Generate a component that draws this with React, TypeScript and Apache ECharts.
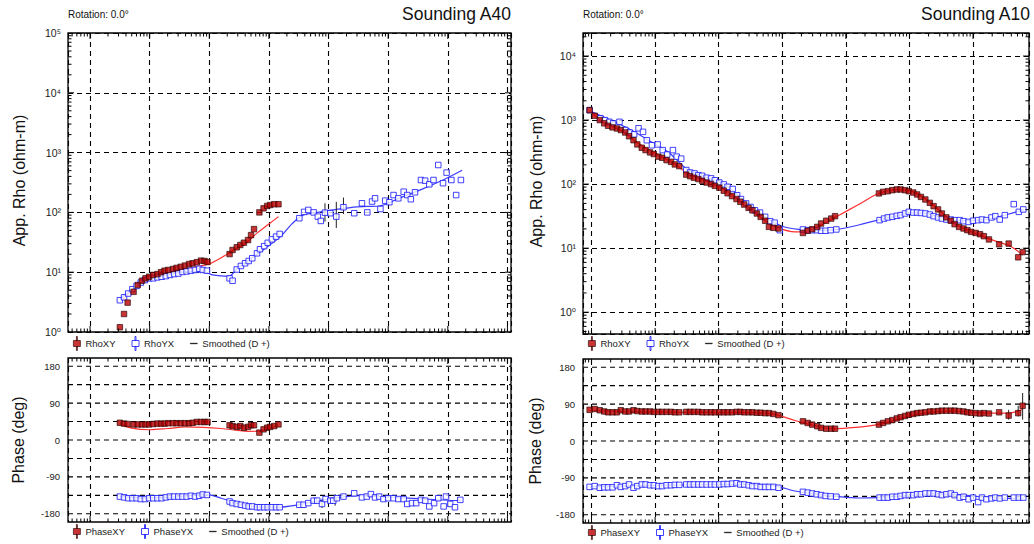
import React, { useEffect, useRef } from "react";
import * as echarts from "echarts";

const FONT = '"Liberation Sans", Arial, "DejaVu Sans", sans-serif';

// ================= Sounding A40 (left) =================
// log10(period) of each sample
const A40_XY_LOGT = [-3.50, -3.43, -3.37, -3.27, -3.20, -3.13, -3.07, -3.01, -2.94, -2.87, -2.81, -2.75, -2.69, -2.61, -2.55, -2.48, -2.41, -2.34, -2.28, -2.21, -2.14, -2.08, -2.03,
  -1.66, -1.61, -1.54, -1.48, -1.42, -1.35, -1.30, -1.25, -1.16, -1.09, -1.03, -0.98, -0.91, -0.84];
const A40_XY_RHO = [1.2, 2.0, 3.1, 4.7, 6.1, 7.2, 7.9, 8.4, 9.0, 9.3, 10.0, 10.6, 10.9, 11.3, 11.8, 12.3, 12.9, 13.7, 14.1, 14.7, 15.6, 15.4, 14.8,
  20.1, 23.5, 26.1, 28.5, 31.1, 34.5, 41.7, 52.6, 100, 117, 128, 133, 137, 137];
const A40_XY_PHASE = [42, 40, 39, 38, 38, 38, 38, 38, 39, 40, 40, 40, 41, 41, 41, 41, 41, 41, 42, 44, 44, 44, 44,
  36, 34, 32, 34, 30, 32, 36, 36, 18, 26, 30, 32, 34, 38];

const A40_YX_LOGT = [-3.50, -3.43, -3.36, -3.29, -3.22, -3.15, -3.08, -3.01, -2.94, -2.87, -2.80, -2.73, -2.66, -2.59, -2.52, -2.45, -2.38, -2.31, -2.24, -2.17, -2.11, -2.04,
  -1.66, -1.61, -1.54, -1.47, -1.40, -1.34, -1.28, -1.20, -1.15, -1.08, -1.02, -0.95, -0.88, -0.82,
  -0.49, -0.41, -0.34, -0.25, -0.18, -0.13, -0.06, 0.03, 0.13, 0.25, 0.43, 0.56, 0.65, 0.73, 0.78, 0.87, 0.95, 1.02, 1.09, 1.17, 1.26, 1.32, 1.38, 1.45, 1.55, 1.62, 1.69, 1.76, 1.84, 1.92, 1.98, 2.06, 2.14, 2.22];
const A40_YX_RHO = [3.4, 3.8, 4.4, 5.2, 5.9, 6.7, 7.4, 7.9, 7.9, 8.2, 8.4, 8.6, 9.0, 9.3, 9.5, 10.1, 10.3, 10.6, 10.9, 11.4, 10.9, 10.6,
  7.9, 7.2, 11.1, 12.7, 14.1, 15.4, 17.1, 20.7, 24.2, 27.3, 31, 35.4, 39.3, 43.6,
  80, 102, 110, 100, 85, 72, 99, 97, 85, 122, 97, 142, 100, 152, 172, 114, 157, 148, 195, 172, 222, 195, 166, 217, 348, 339, 295, 348, 620, 308, 463, 348, 195, 348];

const A40_YXP_LOGT = [-3.50, -3.43, -3.36, -3.29, -3.22, -3.15, -3.08, -3.01, -2.94, -2.87, -2.80, -2.73, -2.66, -2.59, -2.52, -2.45, -2.38, -2.31, -2.24, -2.17, -2.11, -2.04,
  -1.66, -1.61, -1.54, -1.47, -1.40, -1.34, -1.28, -1.20, -1.15, -1.08, -1.02, -0.95, -0.88, -0.82,
  -0.49, -0.42, -0.34, -0.25, -0.19, -0.11, -0.05, 0.03, 0.08, 0.14, 0.25, 0.43, 0.56, 0.64, 0.71, 0.78, 0.85, 0.92, 1.00, 1.09, 1.17, 1.26, 1.32, 1.40, 1.47, 1.55, 1.62, 1.69, 1.77, 1.84, 1.93, 1.97, 2.04, 2.12, 2.21];
const A40_YX_PHASE = [-138, -140, -142, -142, -142, -144, -144, -142, -142, -142, -142, -140, -138, -138, -138, -138, -138, -136, -138, -136, -133, -134,
  -150, -154, -156, -158, -160, -162, -162, -164, -164, -164, -164, -164, -164, -164,
  -158, -158, -154, -148, -148, -156, -144, -148, -148, -142, -138, -130, -140, -138, -132, -140, -138, -144, -142, -142, -144, -144, -156, -154, -154, -146, -148, -162, -154, -142, -162, -138, -156, -164, -146];

const A40_SXY_LOGT = [-3.47, -3.3, -3.1, -2.9, -2.6, -2.3, -2.0, -1.8, -1.6, -1.4, -1.2, -1.0, -0.84];
const A40_SXY_RHO = [3.3, 5.0, 6.8, 8.2, 10.3, 12.0, 13.8, 17.5, 23, 30, 45, 64, 85];
const A40_SYX_LOGT = [-3.50, -3.33, -3.08, -2.74, -2.32, -2.07, -1.95, -1.68, -1.53, -1.23, -0.81, -0.61, -0.43, -0.26, 0.08, 0.48, 0.85, 1.20, 1.59, 1.92, 2.24];
const A40_SYX_RHO = [3.6, 4.8, 7.0, 8.9, 10.2, 10.0, 9.0, 8.5, 11.5, 19, 39, 65, 90, 97, 110, 124, 128, 175, 250, 348, 506];
const A40_SXYP_LOGT = [-3.50, -3.3, -3.0, -2.7, -2.4, -2.1, -1.8, -1.55, -1.35, -1.15, -0.95, -0.84];
const A40_SXYP = [40, 29, 25, 28, 32, 31, 28, 24, 21, 22, 30, 36];
const A40_SYXP_LOGT = [-3.50, -3.0, -2.5, -2.05, -1.8, -1.5, -1.2, -0.85, -0.5, -0.2, 0.1, 0.5, 1.0, 1.5, 2.0, 2.22];
const A40_SYXP = [-138, -141, -138, -133, -142, -156, -163, -164, -158, -149, -142, -136, -139, -143, -147, -148];

const A40_ERR_LOGT = [-0.06, 0.13, 0.25];
const A40_ERR_LO = [70, 55, 94];
const A40_ERR_HI = [142, 150, 177];
const A40_PERR_LOGT = [-0.11, 0.11];
const A40_PERR_LO = [-166, -160];
const A40_PERR_HI = [-146, -132];

// ================= Sounding A10 (right) =================
const A10_XY_LOGT = [-4.03, -3.95, -3.87, -3.80, -3.74, -3.67, -3.60, -3.54, -3.47, -3.41, -3.34, -3.28, -3.21, -3.15, -3.08, -3.02, -2.95, -2.89, -2.82, -2.75,
  -2.69, -2.62, -2.51, -2.45, -2.39, -2.32, -2.26, -2.19, -2.12, -2.06, -1.99, -1.92, -1.86, -1.79, -1.72, -1.66, -1.60, -1.53, -1.47, -1.40, -1.34, -1.27, -1.21, -1.14, -1.06,
  -0.675, -0.60, -0.53, -0.45, -0.39, -0.31, -0.23, -0.17,
  0.52, 0.585, 0.66, 0.73, 0.80, 0.86, 0.93, 0.99, 1.06, 1.12, 1.18, 1.25, 1.32, 1.38, 1.45, 1.51, 1.58, 1.65, 1.71, 1.78, 1.85, 1.91, 1.97, 2.04, 2.11, 2.17, 2.25, 2.41, 2.56, 2.71, 2.78];
const A10_XY_RHO = [1430, 1170, 1000, 890, 815, 770, 740, 700, 640, 560, 485, 417, 370, 340, 313, 295, 269, 258, 237, 223,
  203, 191, 141, 133, 126, 120, 113, 106, 100, 94, 88, 79, 72, 65, 58.5, 53, 48, 42.6, 39, 34.8, 30.8, 26.8, 21.5, 20.8, 20.3,
  17.3, 18.7, 19.8, 21.5, 24.3, 26.8, 29, 31.6,
  71.6, 75.8, 77.6, 80.5, 82.6, 82.6, 80.5, 77.6, 74, 69, 63.2, 57.6, 51.1, 45.3, 40.3, 34.8, 30.3, 26.8, 23.7, 21.5, 20.3, 19.1, 18, 17.3, 16.5, 15.4, 13.7, 11.5, 11.8, 7.2, 8.7];
const A10_XY_PHASE = [76, 78, 75, 72, 70, 70, 70, 75, 72, 72, 75, 73, 72, 72, 72, 71, 71, 71, 71, 71,
  70, 70, 71, 71, 71, 71, 70, 70, 70, 70, 70, 70, 70, 70, 71, 71, 70, 70, 70, 69, 69, 68, 68, 66, 63,
  48, 44, 40, 36, 32, 30, 30, 30,
  40, 44, 48, 51, 55, 58, 61, 64, 66, 68, 69, 70, 72, 72, 73, 74, 74, 74, 74, 73, 72, 70, 69, 68, 67, 68, 67, 70, 62, 68, 86];

const A10_YX_LOGT = [-4.03, -3.86, -3.79, -3.72, -3.66, -3.56, -3.47, -3.40, -3.33, -3.26, -3.19, -3.13, -3.05, -2.96, -2.88, -2.81, -2.72, -2.66, -2.59, -2.51,
  -2.45, -2.38, -2.32, -2.26, -2.19, -2.12, -2.06, -1.99, -1.92, -1.86, -1.78, -1.71, -1.65, -1.57, -1.50, -1.43, -1.35, -1.27, -1.19, -1.12, -1.04,
  -0.675, -0.60, -0.53, -0.46, -0.39, -0.32, -0.24, -0.15,
  0.53, 0.60, 0.66, 0.73, 0.80, 0.86, 0.93, 0.99, 1.06, 1.12, 1.18, 1.25, 1.32, 1.38, 1.45, 1.51, 1.58, 1.65, 1.71, 1.79, 1.85, 1.93, 2.00, 2.08, 2.14, 2.21, 2.29, 2.35, 2.42, 2.50, 2.64, 2.72, 2.79];
const A10_YX_RHO = [1430, 1070, 1000, 940, 890, 940, 700, 640, 600, 745, 655, 485, 405, 417, 340, 290, 340, 269, 250, 166,
  152, 147, 138, 135, 126, 123, 115, 106, 99, 91, 84, 67, 58.5, 50, 44, 39, 36, 30.9, 26.4, 25, 19.1,
  19.6, 19.1, 19.1, 19.1, 18.7, 18.7, 19.1, 19.6,
  27.4, 29, 30.2, 30.9, 32, 32.8, 34.8, 36.9, 36, 36, 35.5, 34.8, 33.5, 31.6, 30.2, 29, 28, 28, 27.4, 27.4, 26.4, 25.7, 26.8, 27.4, 28, 27.4, 30.2, 31.6, 28, 32.8, 48.7, 36.9, 40.3];

const A10_YXP_LOGT = [-4.03, -3.95, -3.87, -3.80, -3.74, -3.67, -3.60, -3.54, -3.47, -3.41, -3.34, -3.28, -3.21, -3.15, -3.08, -3.02, -2.95, -2.89, -2.82, -2.75,
  -2.69, -2.62, -2.51, -2.45, -2.39, -2.32, -2.26, -2.19, -2.12, -2.06, -1.99, -1.92, -1.86, -1.79, -1.72, -1.66, -1.60, -1.53, -1.47, -1.40, -1.34, -1.27, -1.21, -1.14, -1.06,
  -0.675, -0.60, -0.53, -0.46, -0.39, -0.32, -0.24, -0.15,
  0.53, 0.60, 0.66, 0.73, 0.80, 0.86, 0.93, 0.99, 1.06, 1.12, 1.18, 1.25, 1.32, 1.38, 1.45, 1.51, 1.58, 1.65, 1.71, 1.79, 1.85, 1.93, 2.00, 2.08, 2.14, 2.21, 2.29, 2.35, 2.42, 2.50, 2.64, 2.72, 2.79];
const A10_YX_PHASE = [-112, -110, -114, -113, -113, -113, -108, -112, -110, -106, -114, -110, -106, -106, -108, -108, -110, -110, -108, -108,
  -107, -107, -106, -106, -106, -106, -106, -106, -106, -106, -106, -105, -105, -104, -103, -106, -106, -108, -110, -110, -112, -112, -112, -112, -114,
  -124, -126, -128, -130, -132, -134, -135, -136,
  -138, -138, -138, -136, -136, -134, -132, -132, -132, -130, -130, -128, -128, -128, -130, -132, -130, -128, -132, -138, -136, -142, -138, -149, -138, -142, -140, -138, -140, -138, -138, -138, -138];

const A10_SXY_LOGT = [-4.03, -3.8, -3.5, -3.3, -3.0, -2.7, -2.5, -2.2, -1.9, -1.6, -1.3, -1.1, -0.8, -0.6, -0.35, -0.15, 0.2, 0.5, 0.8, 1.1, 1.4, 1.7, 2.0, 2.3, 2.6, 2.78];
const A10_SXY_RHO = [1400, 920, 660, 460, 305, 210, 150, 112, 82, 49, 28, 21.5, 18, 18.5, 24, 31, 48, 70, 82, 73, 45, 25, 17.5, 13.5, 10.5, 7.8];
const A10_SYX_LOGT = [-4.03, -3.7, -3.4, -3.1, -2.8, -2.5, -2.2, -1.9, -1.6, -1.3, -1.0, -0.7, -0.4, -0.15, 0.2, 0.5, 0.8, 1.0, 1.25, 1.5, 1.8, 2.1, 2.4, 2.8];
const A10_SYX_RHO = [1400, 1000, 720, 480, 320, 172, 128, 98, 55, 32, 22, 19.5, 19, 19.5, 23, 27.5, 32, 35.5, 35, 30, 27, 27.5, 31, 40];
const A10_SXYP_LOGT = [-4.03, -3.5, -3.0, -2.5, -2.0, -1.5, -1.15, -0.8, -0.5, -0.2, 0.15, 0.5, 0.8, 1.1, 1.4, 1.7, 2.0, 2.3, 2.55, 2.78];
const A10_SXYP = [75, 72, 71, 70, 70, 69, 66, 50, 38, 30, 33, 40, 52, 64, 71, 73, 70, 68, 68, 77];
const A10_SYXP_LOGT = [-4.03, -3.5, -3.0, -2.5, -2.0, -1.5, -1.1, -0.8, -0.5, -0.15, 0.2, 0.5, 1.0, 1.4, 1.8, 2.1, 2.5, 2.8];
const A10_SYXP = [-112, -110, -108, -107, -106, -106, -110, -122, -129, -135, -139, -138, -133, -129, -131, -136, -140, -139];

const A10_PERR_LOGT = [2.56, 2.71, 2.78];
const A10_PERR_LO = [52, 60, 52];
const A10_PERR_HI = [76, 86, 117];

// ================= axes / ticks =================
const TICK_MULTS = [1, 2, 3, 4, 5, 6, 7, 8, 9];
const A40_X_DECADES = [-5, -4, -3, -2, -1, 0, 1, 2, 3];
const A10_X_DECADES = [-5, -4, -3, -2, -1, 0, 1, 2];
const A40_Y_DECADES = [0, 1, 2, 3, 4, 5];
const A10_Y_DECADES = [-1, 0, 1, 2, 3, 4];
const PHASE_LINES = [-180, -135, -90, -45, 0, 45, 90, 135, 180];
const PHASE_LABELS = [-180, -90, 0, 90, 180];

const SUP: Record<string, string> = { "-": "⁻", "0": "⁰", "1": "¹", "2": "²", "3": "³", "4": "⁴", "5": "⁵", "6": "⁶", "7": "⁷", "8": "⁸", "9": "⁹" };

function powLabel(v: number): string {
  const e = Math.log10(v);
  const r = Math.round(e);
  if (Math.abs(e - r) > 1e-6) return "";
  return "10" + String(r).split("").map((c) => SUP[c]).join("");
}

function pts(logT: number[], vals: number[]) {
  return logT.map((e, i) => [Math.pow(10, e), vals[i]]);
}
function errs(logT: number[], lo: number[], hi: number[]) {
  return logT.map((e, i) => [Math.pow(10, e), lo[i], hi[i]]);
}
function logTicks(decades: number[], min: number, max: number) {
  const out: number[][] = [];
  decades.forEach((d) => TICK_MULTS.forEach((m) => {
    const v = m * Math.pow(10, d);
    if (v > min * 1.0001 && v < max * 0.9999) out.push([v, m === 1 ? 1 : 0]);
  }));
  return out;
}

const RED = { color: "#bb0000", borderColor: "#220000", borderWidth: 0.8 };
const BLUE = { color: "#ffffff", borderColor: "#1414ff", borderWidth: 1 };
const RED_LINE = "#ff3030";
const BLUE_LINE = "#3c3cff";
const ICON_STEM = "path://M3,0h1v4h-1zM0,4h7v6h-7zM3,10h1v4h-1z";
const ICON_DASH = "path://M0,0h10v1h-10z";

type Panel = {
  left: number; width: number; topY: number; topH: number; phY: number; phH: number;
  xmin: number; xmax: number; ymin: number; ymax: number; xDec: number[]; yDec: number[];
  xy: number[][]; yx: number[][]; xyP: number[][]; yxP: number[][];
  sxy: number[][]; syx: number[][]; sxyP: number[][]; syxP: number[][];
  err: number[][]; perr: number[][];
  title: string; titleRight: number; nameX: number; legTop: number; legPh: number;
};

const PANELS: Panel[] = [
  {
    left: 68, width: 443, topY: 33, topH: 299, phY: 358, phH: 164,
    xmin: Math.pow(10, -4.37), xmax: Math.pow(10, 3.06), ymin: 1, ymax: 1e5, xDec: A40_X_DECADES, yDec: A40_Y_DECADES,
    xy: pts(A40_XY_LOGT, A40_XY_RHO), yx: pts(A40_YX_LOGT, A40_YX_RHO),
    xyP: pts(A40_XY_LOGT, A40_XY_PHASE), yxP: pts(A40_YXP_LOGT, A40_YX_PHASE),
    sxy: pts(A40_SXY_LOGT, A40_SXY_RHO), syx: pts(A40_SYX_LOGT, A40_SYX_RHO),
    sxyP: pts(A40_SXYP_LOGT, A40_SXYP), syxP: pts(A40_SYXP_LOGT, A40_SYXP),
    err: errs(A40_ERR_LOGT, A40_ERR_LO, A40_ERR_HI), perr: errs(A40_PERR_LOGT, A40_PERR_LO, A40_PERR_HI),
    title: "Sounding A40", titleRight: 511, nameX: 19, legTop: 331, legPh: 519,
  },
  {
    left: 583, width: 446, topY: 33, topH: 301, phY: 359, phH: 164,
    xmin: Math.pow(10, -4.134), xmax: Math.pow(10, 2.88), ymin: Math.pow(10, -0.34), ymax: Math.pow(10, 4.36), xDec: A10_X_DECADES, yDec: A10_Y_DECADES,
    xy: pts(A10_XY_LOGT, A10_XY_RHO), yx: pts(A10_YX_LOGT, A10_YX_RHO),
    xyP: pts(A10_XY_LOGT, A10_XY_PHASE), yxP: pts(A10_YXP_LOGT, A10_YX_PHASE),
    sxy: pts(A10_SXY_LOGT, A10_SXY_RHO), syx: pts(A10_SYX_LOGT, A10_SYX_RHO),
    sxyP: pts(A10_SXYP_LOGT, A10_SXYP), syxP: pts(A10_SYXP_LOGT, A10_SYXP),
    err: [], perr: errs(A10_PERR_LOGT, A10_PERR_LO, A10_PERR_HI),
    title: "Sounding A10", titleRight: 1030, nameX: 536, legTop: 331, legPh: 520,
  },
];

const dashed = { color: "#000", width: 1.1, type: [5, 4] as any };

function buildOption() {
  const grid: any[] = [];
  const xAxis: any[] = [];
  const yAxis: any[] = [];
  const series: any[] = [];
  const legend: any[] = [];
  const graphic: any[] = [];

  const xTickRender = (params: any, api: any) => {
    const cs = params.coordSys;
    const x = api.coord([api.value(0), api.value(1)])[0];
    const len = api.value(2) ? 6 : 3.5;
    const st = { stroke: "#000", lineWidth: 1 };
    return {
      type: "group",
      children: [
        { type: "line", shape: { x1: x, y1: cs.y + cs.height, x2: x, y2: cs.y + cs.height - len }, style: st },
        { type: "line", shape: { x1: x, y1: cs.y, x2: x, y2: cs.y + len }, style: st },
      ],
    };
  };
  const yTickRender = (params: any, api: any) => {
    const cs = params.coordSys;
    const y = api.coord([api.value(0), api.value(1)])[1];
    const len = api.value(2) ? 6 : 3.5;
    const st = { stroke: "#000", lineWidth: 1 };
    return {
      type: "group",
      children: [
        { type: "line", shape: { x1: cs.x, y1: y, x2: cs.x + len, y2: y }, style: st },
        { type: "line", shape: { x1: cs.x + cs.width, y1: y, x2: cs.x + cs.width - len, y2: y }, style: st },
      ],
    };
  };
  const hLineRender = (params: any, api: any) => {
    const cs = params.coordSys;
    const y = api.coord([api.value(0), api.value(1)])[1];
    return { type: "line", shape: { x1: cs.x, y1: y, x2: cs.x + cs.width, y2: y }, style: { stroke: "#000", lineWidth: 1.1, lineDash: [5, 4] } };
  };
  const errRender = (params: any, api: any) => {
    const p1 = api.coord([api.value(0), api.value(1)]);
    const p2 = api.coord([api.value(0), api.value(2)]);
    return { type: "line", shape: { x1: p1[0], y1: p1[1], x2: p2[0], y2: p2[1] }, style: { stroke: "#222", lineWidth: 1 } };
  };

  PANELS.forEach((p, pi) => {
    const gTop = pi * 2;
    const gPh = pi * 2 + 1;
    grid.push({ left: p.left, top: p.topY, width: p.width, height: p.topH, show: true, borderColor: "#000", borderWidth: 1.3 });
    grid.push({ left: p.left, top: p.phY, width: p.width, height: p.phH, show: true, borderColor: "#000", borderWidth: 1.3 });

    [gTop, gPh].forEach((gi) => {
      xAxis.push({
        type: "log", gridIndex: gi, min: p.xmin, max: p.xmax, logBase: 10,
        axisLine: { show: false }, axisTick: { show: false }, axisLabel: { show: false },
        splitLine: { show: true, lineStyle: dashed },
      });
    });
    yAxis.push({
      type: "log", gridIndex: gTop, min: p.ymin, max: p.ymax, logBase: 10,
      axisLine: { show: false }, axisTick: { show: false },
      axisLabel: { formatter: powLabel, fontSize: 10.5, color: "#222", fontFamily: FONT, margin: 7 },
      splitLine: { show: true, lineStyle: dashed },
    });
    yAxis.push({
      type: "value", gridIndex: gPh, min: -200, max: 200, interval: 10,
      axisLine: { show: false }, axisTick: { show: false }, splitLine: { show: false },
      axisLabel: { formatter: (v: number) => (PHASE_LABELS.indexOf(v) >= 0 ? String(v) : ""), fontSize: 9.5, color: "#222", fontFamily: FONT, margin: 8 },
    });

    // ---------- top (app. resistivity) ----------
    const xRefTop = p.xmin * 2;
    series.push({
      type: "custom", name: "xticks", silent: true, xAxisIndex: gTop, yAxisIndex: gTop, z: 5,
      data: logTicks(p.xDec, p.xmin, p.xmax).map((t) => [t[0], p.ymin * 2, t[1]]), renderItem: xTickRender,
    });
    series.push({
      type: "custom", name: "yticks", silent: true, xAxisIndex: gTop, yAxisIndex: gTop, z: 5,
      data: logTicks(p.yDec, p.ymin, p.ymax).map((t) => [xRefTop, t[0], t[1]]), renderItem: yTickRender,
    });
    series.push({
      type: "line", name: "Smoothed (D +)", xAxisIndex: gTop, yAxisIndex: gTop, data: p.sxy, smooth: 0.35,
      showSymbol: false, lineStyle: { color: RED_LINE, width: 1.2 }, itemStyle: { color: RED_LINE }, z: 2,
    });
    series.push({
      type: "line", name: "Smoothed (D +)", xAxisIndex: gTop, yAxisIndex: gTop, data: p.syx, smooth: 0.35,
      showSymbol: false, lineStyle: { color: BLUE_LINE, width: 1.2 }, itemStyle: { color: BLUE_LINE }, z: 2,
    });
    if (p.err.length) {
      series.push({
        type: "custom", name: "err", silent: true, xAxisIndex: gTop, yAxisIndex: gTop, z: 3,
        data: p.err, encode: { x: 0, y: [1, 2] }, renderItem: errRender,
      });
    }
    series.push({
      type: "scatter", name: "RhoYX", xAxisIndex: gTop, yAxisIndex: gTop, data: p.yx,
      symbol: "rect", symbolSize: 5.5, itemStyle: BLUE, z: 4,
    });
    series.push({
      type: "scatter", name: "RhoXY", xAxisIndex: gTop, yAxisIndex: gTop, data: p.xy,
      symbol: "rect", symbolSize: 5.5, itemStyle: RED, z: 4,
    });

    // ---------- phase ----------
    series.push({
      type: "custom", name: "hlines", silent: true, xAxisIndex: gPh, yAxisIndex: gPh, z: 1,
      data: PHASE_LINES.map((v) => [xRefTop, v]), renderItem: hLineRender,
    });
    series.push({
      type: "custom", name: "xticks", silent: true, xAxisIndex: gPh, yAxisIndex: gPh, z: 5,
      data: logTicks(p.xDec, p.xmin, p.xmax).map((t) => [t[0], 0, t[1]]), renderItem: xTickRender,
    });
    series.push({
      type: "line", name: "Smoothed (D +)", xAxisIndex: gPh, yAxisIndex: gPh, data: p.sxyP, smooth: 0.35,
      showSymbol: false, lineStyle: { color: RED_LINE, width: 1.2 }, itemStyle: { color: RED_LINE }, z: 2,
    });
    series.push({
      type: "line", name: "Smoothed (D +)", xAxisIndex: gPh, yAxisIndex: gPh, data: p.syxP, smooth: 0.35,
      showSymbol: false, lineStyle: { color: BLUE_LINE, width: 1.2 }, itemStyle: { color: BLUE_LINE }, z: 2,
    });
    if (p.perr.length) {
      series.push({
        type: "custom", name: "perr", silent: true, xAxisIndex: gPh, yAxisIndex: gPh, z: 3,
        data: p.perr, encode: { x: 0, y: [1, 2] }, renderItem: errRender,
      });
    }
    series.push({
      type: "scatter", name: "PhaseYX", xAxisIndex: gPh, yAxisIndex: gPh, data: p.yxP,
      symbol: "rect", symbolSize: 5.5, itemStyle: BLUE, z: 4,
    });
    series.push({
      type: "scatter", name: "PhaseXY", xAxisIndex: gPh, yAxisIndex: gPh, data: p.xyP,
      symbol: "rect", symbolSize: 5.5, itemStyle: RED, z: 4,
    });

    // ---------- legends ----------
    const legBase = {
      orient: "horizontal", left: p.left, itemWidth: 7, itemHeight: 14, itemGap: 16, selectedMode: false,
      textStyle: { fontSize: 9.5, color: "#222", fontFamily: FONT },
    };
    const smooth = { name: "Smoothed (D +)", icon: ICON_DASH, itemStyle: { color: "#000", borderColor: "#000", borderWidth: 0.4 } };
    legend.push({
      ...legBase, top: p.legTop,
      data: [{ name: "RhoXY", icon: ICON_STEM, itemStyle: RED }, { name: "RhoYX", icon: ICON_STEM, itemStyle: BLUE }, smooth],
    });
    legend.push({
      ...legBase, top: p.legPh,
      data: [{ name: "PhaseXY", icon: ICON_STEM, itemStyle: RED }, { name: "PhaseYX", icon: ICON_STEM, itemStyle: BLUE }, smooth],
    });

    // ---------- texts ----------
    graphic.push({
      type: "text", x: p.left, y: 14,
      style: { text: "Rotation: 0.0°", fontSize: 10, fontFamily: FONT, fill: "#111", align: "left", verticalAlign: "middle" },
    });
    graphic.push({
      type: "text", x: p.titleRight, y: 14,
      style: { text: p.title, fontSize: 17.5, fontFamily: FONT, fill: "#111", align: "right", verticalAlign: "middle" },
    });
    graphic.push({
      type: "text", x: p.nameX, y: p.topY + p.topH / 2 - 2, rotation: Math.PI / 2,
      style: { text: "App. Rho (ohm-m)", fontSize: 16, fontFamily: FONT, fill: "#111", align: "center", verticalAlign: "middle" },
    });
    graphic.push({
      type: "text", x: p.nameX - 1, y: p.phY + p.phH / 2, rotation: Math.PI / 2,
      style: { text: "Phase (deg)", fontSize: 16, fontFamily: FONT, fill: "#111", align: "center", verticalAlign: "middle" },
    });
  });

  return {
    animation: false,
    backgroundColor: "#ffffff",
    textStyle: { fontFamily: FONT },
    grid, xAxis, yAxis, series, legend, graphic,
  };
}

export default function App() {
  const ref = useRef<HTMLDivElement>(null);
  useEffect(() => {
    if (!ref.current) return;
    const chart = echarts.init(ref.current, undefined, { renderer: "svg" });
    chart.setOption(buildOption() as any);
    return () => chart.dispose();
  }, []);
  return <div ref={ref} style={{ position: "absolute", left: 0, top: 0, width: 1034, height: 544 }} />;
}
